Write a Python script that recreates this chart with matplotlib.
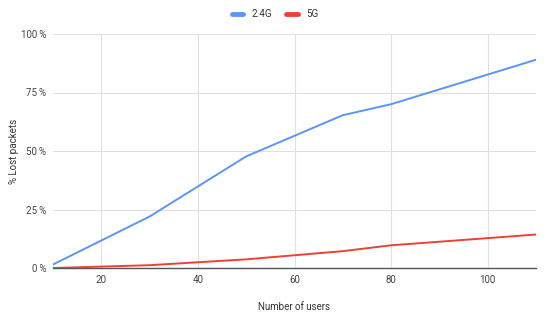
import matplotlib
matplotlib.use("Agg")
import matplotlib.pyplot as plt
from matplotlib.ticker import FuncFormatter

plt.rcParams['font.family'] = ['Roboto', 'DejaVu Sans']

users = [10, 30, 50, 70, 80, 110]
loss_24g = [1.5, 22, 47.7, 65.3, 70, 89]
loss_5g = [0, 1.2, 3.7, 7.2, 9.7, 14.3]
series_names = ["2.4G", "5G"]
x_ticks = [20, 40, 60, 80, 100]
y_ticks = [0, 25, 50, 75, 100]

fig = plt.figure(figsize=(5.5, 3.14), dpi=100)
ax = fig.add_axes([53/550, 1-268/314, (536-53)/550, (268-34)/314])

ax.plot(users, loss_24g, color="#5b95f9", lw=1.4, label=series_names[0], zorder=3)
ax.plot(users, loss_5g, color="#ea4335", lw=1.4, label=series_names[1], zorder=3)

ax.set_xlim(10, 110)
ax.set_ylim(0, 100)
ax.set_xticks(x_ticks)
ax.set_yticks(y_ticks)
ax.yaxis.set_major_formatter(FuncFormatter(lambda v, p: f"{int(v)}\u2009%"))
ax.grid(True, color="#e0e0e0", lw=0.8)
ax.set_axisbelow(True)
for s in ["top", "right", "left"]:
    ax.spines[s].set_visible(False)
ax.spines["bottom"].set_color("#555555")
ax.spines["bottom"].set_linewidth(1.0)
ax.tick_params(length=0, labelsize=7, colors="#444444", pad=5)
ax.set_xlabel("Number of users", fontsize=7, color="#333333", labelpad=12)
ax.set_ylabel("% Lost packets", fontsize=7, color="#333333")
ax.yaxis.set_label_coords((19 - 53) / 483, 0.5)

leg = fig.legend(loc="center", bbox_to_anchor=(0.5, 1-14/314), ncol=2, frameon=False,
                 fontsize=7, handlelength=1.2, handleheight=0.5, columnspacing=1.5,
                 labelcolor="#333333")
for line in leg.get_lines():
    line.set_linewidth(3.5)
    line.set_solid_capstyle("round")

fig.savefig("out.png", dpi=100)
